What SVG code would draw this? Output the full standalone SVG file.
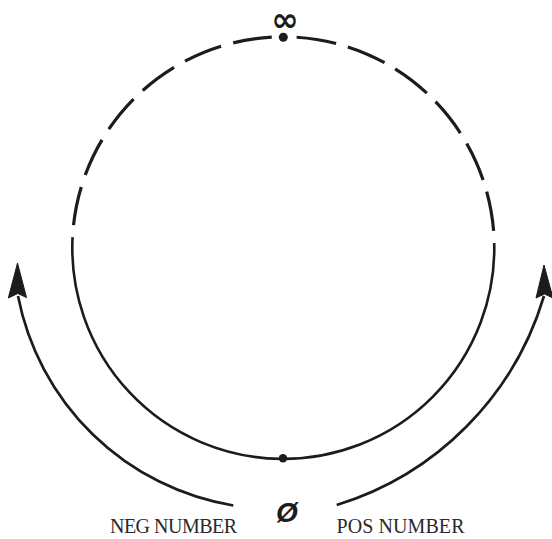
<svg xmlns="http://www.w3.org/2000/svg" width="552" height="539" viewBox="0 0 552 539">
  <style>
    .ln { fill: none; stroke: #1c1c1c; stroke-linecap: butt; }
    .dash { stroke-width: 3.2; }
    .solid { stroke-width: 2.6; }
    .arc { stroke-width: 2.7; }
    .head { fill: #1c1c1c; stroke: #1c1c1c; stroke-width: 1; stroke-linejoin: miter; }
    .dot { fill: #1c1c1c; }
    .lbl { font-family: "Liberation Serif", "Times New Roman", serif; font-size: 20px; fill: #2a2a2a; }
    .sym { fill: #1c1c1c; }
  </style>
  <rect width="552" height="539" fill="#ffffff"/>
  <g id="ring">
    <path class="ln dash" d="M283.3,36.8 A211,211 0 0 0 72.57,237.16" stroke-dasharray="39 12.6" stroke-dashoffset="40"/>
    <path class="ln dash" d="M283.3,36.8 A211,211 0 0 1 494.24,242.97" stroke-dasharray="40 12.2" stroke-dashoffset="38.8"/>
    <path class="ln solid" d="M494.24,242.97 A211,211 0 1 1 72.57,237.16"/>
  </g>
  <g id="node-infinity">
    <circle class="dot" cx="283.3" cy="37.3" r="4.5"/>
    <text class="sym" x="285" y="30.6" text-anchor="middle" font-family="DejaVu Sans, sans-serif" font-weight="bold" font-size="33">∞</text>
  </g>
  <g id="node-zero">
    <circle class="dot" cx="283" cy="458.3" r="4.2"/>
    <text class="sym" x="287" y="521.5" text-anchor="middle" font-family="Liberation Sans, sans-serif" font-style="italic" font-weight="bold" font-size="28">Ø</text>
  </g>
  <g id="connectors">
    <path class="ln arc" d="M233.3,505.5 A263.4,263.4 0 0 1 18,296"/>
    <polygon class="head" points="17.5,263 8.3,298 17.8,293.5 26.5,297.5"/>
    <path class="ln arc" d="M336.7,505 A312,312 0 0 0 544,296"/>
    <polygon class="head" points="544,265 536,298 544.5,294 553,298"/>
  </g>
  <g id="labels">
    <text class="lbl" x="110" y="533.3" textLength="127" lengthAdjust="spacing">NEG NUMBER</text>
    <text class="lbl" x="336.5" y="533.3" textLength="128" lengthAdjust="spacing">POS NUMBER</text>
  </g>
</svg>
